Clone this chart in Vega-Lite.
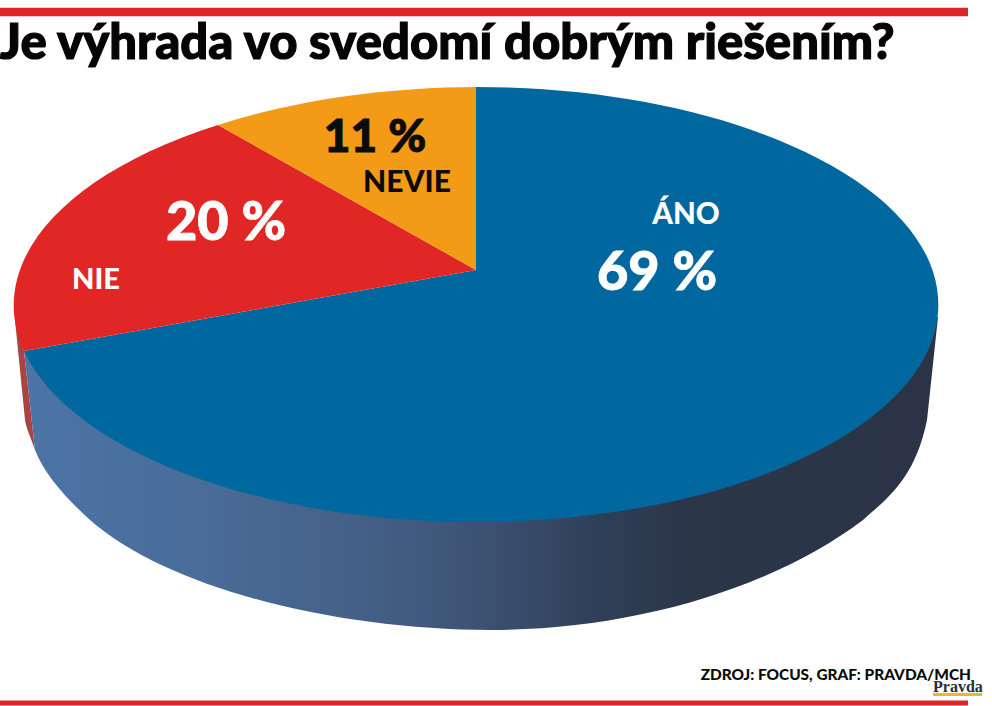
{
  "$schema": "https://vega.github.io/schema/vega-lite/v6.json",
  "description": "Je výhrada vo svedomí dobrým riešením? Tilted pie drawn as shaped points",
  "autosize": {"type": "none"},
  "padding": {"left": 0, "top": 12, "right": 24, "bottom": 3},
  "width": 968,
  "height": 691,
  "background": "white",
  "config": {"view": {"stroke": null}},
  "datasets": {
    "answers": [
      {"answer": "ÁNO", "share": 69, "share_label": "69 %"},
      {"answer": "NIE", "share": 20, "share_label": "20 %"},
      {"answer": "NEVIE", "share": 11, "share_label": "11 %"}
    ],
    "notes": [
      {"role": "title", "text": "Je výhrada vo svedomí dobrým riešením?"},
      {"role": "source", "text": "ZDROJ: FOCUS, GRAF: PRAVDA/MCH"},
      {"role": "brand", "text": "Pravda"}
    ],
    "edges": [{"edge": "top"}, {"edge": "bottom"}]
  },
  "layer": [
    {
      "data": {"name": "edges"},
      "mark": {"type": "rule", "color": "#e02529"},
      "encoding": {
        "y": {"field": "edge", "type": "nominal", "axis": null, "scale": {"type": "point", "domain": ["top", "bottom"], "padding": 0}},
        "size": {"field": "edge", "type": "nominal", "legend": null, "scale": {"domain": ["top", "bottom"], "range": [8.5, 5]}}
      }
    },
    {
      "data": {"name": "answers"},
      "transform": [{"filter": "datum.answer === 'NIE'"}],
      "mark": {"type": "point", "filled": true, "opacity": 1, "size": 4, "fill": "#a94442", "shape": "M-469,-37.5 L-460,-6.5 L-449,92.5 C-454,78 -458,70 -459,62.5 Z"}
    },
    {
      "data": {"name": "answers"},
      "transform": [{"filter": "datum.answer === 'ÁNO'"}],
      "mark": {
        "type": "point", "filled": true, "opacity": 1, "size": 4,
        "fill": {
          "gradient": "linear", "x1": 0, "y1": 0, "x2": 1, "y2": 0,
          "stops": [
            {"offset": 0, "color": "#4c74a6"},
            {"offset": 0.2, "color": "#496c98"},
            {"offset": 0.38, "color": "#445f85"},
            {"offset": 0.5, "color": "#3c5273"},
            {"offset": 0.62, "color": "#30405a"},
            {"offset": 0.72, "color": "#2b3649"},
            {"offset": 1, "color": "#2a3446"}
          ]
        },
        "shape": "M454,-40.5 L443,62.5 C431,122.5 401,142.5 379,162.5 C286,232.5 146,272.5 6,272.5 C-144,272.5 -314,232.5 -394,162.5 C-419,139.5 -439,117.5 -449,92.5 L-460,-6.5 Z"
      }
    },
    {
      "data": {"name": "answers"},
      "mark": {"type": "point", "filled": true, "opacity": 1, "size": 4},
      "encoding": {
        "color": {
          "field": "answer", "type": "nominal", "legend": null,
          "scale": {"domain": ["ÁNO", "NIE", "NEVIE"], "range": ["#00689f", "#e02726", "#f39a17"]}
        },
        "shape": {
          "field": "answer", "type": "nominal", "legend": null,
          "scale": {
            "domain": ["ÁNO", "NIE", "NEVIE"],
            "range": [
              "M-8,-87.5 L-460,-6.5 A462.5,217.5 0 1 0 -8,-270.5 Z",
              "M-8,-87.5 L-266,-232.5 A462.5,217.5 0 0 0 -460,-6.5 Z",
              "M-8,-87.5 L-8,-270.5 A462.5,217.5 0 0 0 -266,-232.5 Z"
            ]
          }
        }
      }
    },
    {
      "data": {"name": "answers"},
      "transform": [{"filter": "datum.answer === 'ÁNO'"}],
      "mark": {"type": "text", "font": "Lato", "fontWeight": 900, "fontSize": 29.5, "baseline": "alphabetic", "color": "white", "dx": 202, "dy": -133.5},
      "encoding": {"text": {"field": "answer"}}
    },
    {
      "data": {"name": "answers"},
      "transform": [{"filter": "datum.answer === 'ÁNO'"}],
      "mark": {"type": "text", "font": "Lato", "fontWeight": 900, "fontSize": 54, "baseline": "alphabetic", "color": "white", "stroke": "white", "strokeWidth": 0.8, "dx": 173, "dy": -67.5},
      "encoding": {"text": {"field": "share_label"}}
    },
    {
      "data": {"name": "answers"},
      "transform": [{"filter": "datum.answer === 'NIE'"}],
      "mark": {"type": "text", "font": "Lato", "fontWeight": 900, "fontSize": 29, "baseline": "alphabetic", "color": "white", "dx": -388, "dy": -68.5},
      "encoding": {"text": {"field": "answer"}}
    },
    {
      "data": {"name": "answers"},
      "transform": [{"filter": "datum.answer === 'NIE'"}],
      "mark": {"type": "text", "font": "Lato", "fontWeight": 900, "fontSize": 54, "baseline": "alphabetic", "color": "white", "stroke": "white", "strokeWidth": 0.8, "dx": -258, "dy": -117.5},
      "encoding": {"text": {"field": "share_label"}}
    },
    {
      "data": {"name": "answers"},
      "transform": [{"filter": "datum.answer === 'NEVIE'"}],
      "mark": {"type": "text", "font": "Lato", "fontWeight": 900, "fontSize": 30, "baseline": "alphabetic", "color": "#0b0b0b", "dx": -77, "dy": -165.5},
      "encoding": {"text": {"field": "answer"}}
    },
    {
      "data": {"name": "answers"},
      "transform": [{"filter": "datum.answer === 'NEVIE'"}],
      "mark": {"type": "text", "font": "Lato", "fontWeight": 900, "fontSize": 46, "baseline": "alphabetic", "color": "#0b0b0b", "stroke": "#0b0b0b", "strokeWidth": 1, "dx": -109, "dy": -205.5},
      "encoding": {"text": {"field": "share_label"}}
    },
    {
      "data": {"name": "notes"},
      "transform": [{"filter": "datum.role === 'title'"}],
      "mark": {"type": "text", "font": "Lato", "fontWeight": 900, "fontSize": 49, "baseline": "alphabetic", "align": "left", "color": "#050505", "stroke": "#050505", "strokeWidth": 1.2, "dx": -484, "dy": -299},
      "encoding": {"text": {"field": "text"}}
    },
    {
      "data": {"name": "notes"},
      "transform": [{"filter": "datum.role === 'source'"}],
      "mark": {"type": "text", "font": "Lato", "fontWeight": 900, "fontSize": 15.4, "baseline": "alphabetic", "align": "right", "color": "#0b0b0b", "dx": 487, "dy": 322.5},
      "encoding": {"text": {"field": "text"}}
    },
    {
      "data": {"name": "notes"},
      "transform": [{"filter": "datum.role === 'brand'"}],
      "mark": {"type": "point", "filled": true, "opacity": 1, "size": 4, "fill": "#f2b233", "shape": "M449,335.5 H498 V338.5 H449 Z"}
    },
    {
      "data": {"name": "notes"},
      "transform": [{"filter": "datum.role === 'brand'"}],
      "mark": {"type": "text", "font": "Liberation Serif", "fontWeight": 700, "fontSize": 16, "baseline": "alphabetic", "align": "left", "color": "#26303a", "dx": 449, "dy": 334.5},
      "encoding": {"text": {"field": "text"}}
    }
  ]
}
